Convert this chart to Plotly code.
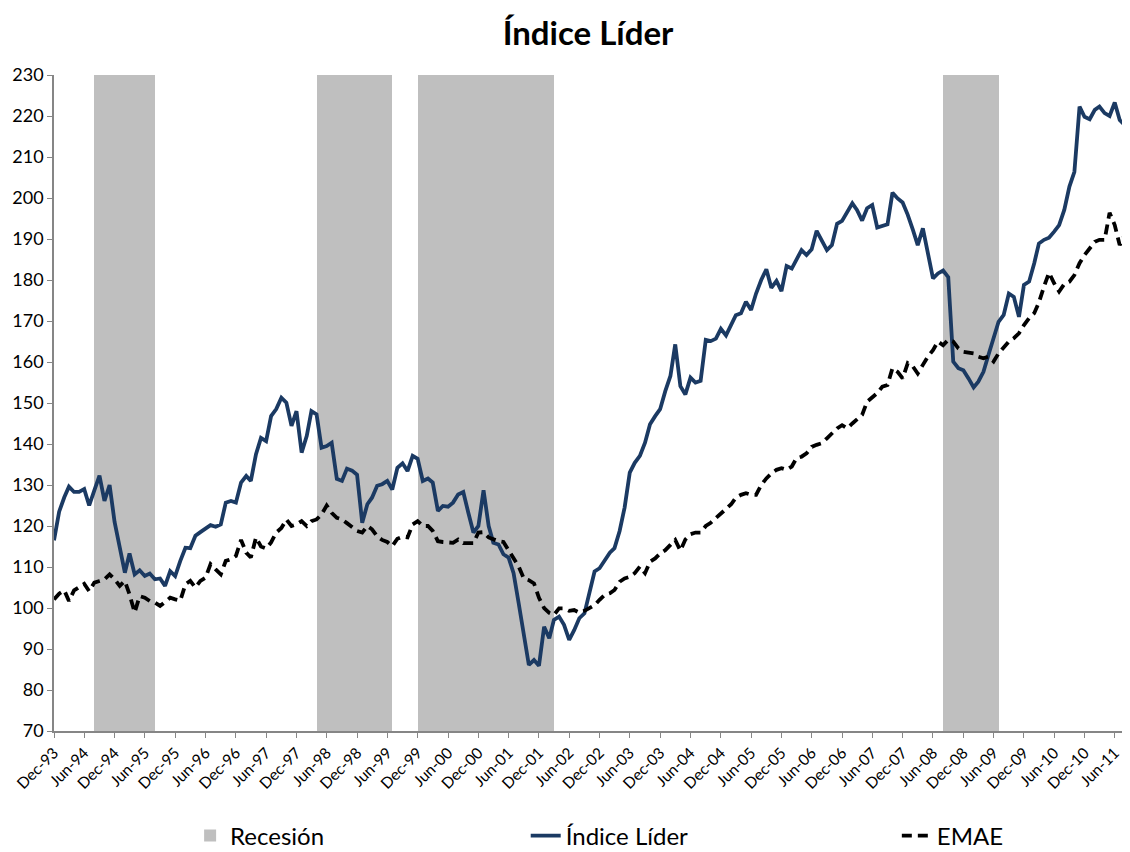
import pandas as pd
import plotly.graph_objects as go

months = pd.date_range("1993-12-01", periods=214, freq="MS")

indice_lider = [
    116.5, 123.5, 127.0, 129.6, 128.3, 128.3, 129.0, 125.0, 128.7, 132.3, 126.1, 130.0,
    121.0, 115.0, 108.6, 113.3, 108.2, 109.2, 107.8, 108.4, 107.0, 107.2, 105.4, 109.0,
    107.8, 111.5, 114.7, 114.6, 117.6, 118.5, 119.3, 120.2, 119.8, 120.4, 125.7, 126.1,
    125.7, 130.6, 132.2, 131.0, 137.5, 141.5, 140.7, 146.8, 148.5, 151.3, 150.1, 144.4,
    148.0, 137.9, 142.0, 148.0, 147.2, 139.1, 139.5, 140.3, 131.5, 131.0, 134.0, 133.5,
    132.5, 120.8, 125.3, 126.9, 129.8, 130.2, 131.0, 128.9, 134.2, 135.3, 133.4, 137.1,
    136.4, 131.0, 131.6, 130.6, 123.7, 124.9, 124.7, 125.7, 127.7, 128.3, 123.3, 118.4,
    120.0, 128.7, 120.0, 115.9, 115.5, 113.1, 112.3, 108.5, 101.1, 93.8, 86.1, 87.3,
    85.9, 95.4, 92.6, 97.1, 97.9, 95.9, 92.2, 94.6, 97.5, 98.7, 103.6, 108.9,
    109.7, 111.7, 113.5, 114.6, 118.8, 124.5, 133.0, 135.4, 137.1, 140.3, 144.8, 146.8,
    148.5, 152.9, 156.6, 164.3, 154.1, 152.1, 156.2, 155.0, 155.4, 165.4, 165.1, 165.7,
    168.1, 166.5, 168.9, 171.4, 171.9, 174.7, 172.7, 176.7, 180.0, 182.6, 178.1, 179.8,
    177.3, 183.4, 182.8, 185.0, 187.3, 186.1, 187.5, 192.0, 189.8, 187.3, 188.5, 193.7,
    194.4, 196.7, 198.7, 197.1, 194.5, 197.5, 198.3, 192.8, 193.2, 193.6, 201.3, 199.9,
    198.9, 195.9, 192.2, 188.5, 192.6, 186.5, 180.4, 181.6, 182.3, 180.7, 160.1, 158.5,
    158.0, 156.0, 153.8, 155.2, 157.6, 161.7, 165.8, 169.8, 171.5, 176.7, 175.9, 171.0,
    178.8, 179.6, 184.1, 188.9, 189.8, 190.3, 191.8, 193.4, 197.1, 202.8, 206.4, 222.3,
    219.8, 219.2, 221.5, 222.3, 220.7, 220.0, 223.3, 219.0, 217.8, 210.5,
]

emae = [
    102.1, 103.5, 104.3, 101.7, 104.3, 105.0, 105.9, 104.1, 106.2, 106.6, 107.0, 108.2,
    107.0, 105.4, 106.6, 103.3, 98.9, 102.9, 102.5, 101.7, 101.3, 100.5, 101.5, 102.5,
    102.1, 101.8, 105.8, 106.6, 105.0, 106.6, 107.4, 110.7, 109.4, 108.2, 111.5, 111.9,
    112.7, 116.6, 113.5, 112.3, 117.2, 115.0, 114.5, 116.0, 118.4, 119.5, 121.6, 120.0,
    120.4, 121.2, 120.0, 121.2, 121.6, 122.8, 125.0, 123.2, 122.0, 121.6, 120.7, 119.6,
    118.8, 118.4, 120.0, 119.2, 117.5, 116.6, 116.1, 115.1, 116.9, 117.4, 117.2, 120.4,
    121.2, 120.0, 120.0, 118.8, 116.3, 116.1, 116.1, 115.9, 116.7, 115.8, 115.8, 115.8,
    118.4, 118.5, 117.2, 116.7, 116.3, 116.1, 114.0, 112.0, 110.1, 107.2, 106.8, 106.0,
    102.5, 100.0, 98.8, 98.3, 99.9, 99.9, 99.3, 99.5, 98.9, 99.3, 99.9, 100.7,
    102.0, 103.2, 103.6, 104.4, 106.4, 107.2, 107.6, 108.5, 110.1, 108.5, 111.3, 112.1,
    113.3, 114.1, 115.4, 116.6, 114.0, 116.7, 118.0, 118.4, 118.4, 120.0, 120.8, 122.0,
    123.2, 124.1, 125.3, 126.9, 127.6, 128.0, 127.6, 127.6, 130.0, 131.6, 132.8, 133.7,
    134.1, 133.7, 134.5, 136.5, 136.9, 137.7, 139.3, 139.8, 140.2, 141.4, 142.6, 143.8,
    144.6, 143.8, 145.0, 145.9, 147.1, 150.3, 151.5, 152.4, 154.0, 154.4, 158.5, 157.6,
    156.0, 159.7, 158.9, 157.2, 159.3, 161.3, 162.9, 165.0, 164.1, 165.4, 165.0, 163.3,
    162.5, 162.3, 162.1, 161.3, 160.9, 161.3, 160.1, 162.1, 163.7, 165.0, 165.8, 167.0,
    169.0, 170.7, 171.9, 174.5, 178.4, 181.8, 179.2, 177.2, 179.0, 179.6, 181.2, 184.1,
    186.1, 187.7, 189.3, 189.8, 189.8, 196.4, 193.4, 188.5, 191.0, 191.8,
]

rec_start = ["1994-08-01", "1998-04-01", "1999-12-01", "2008-08-01"]
rec_end = ["1995-08-01", "1999-07-01", "2002-03-01", "2009-07-01"]

y_min, y_max = 70, 230

rs = pd.to_datetime(rec_start)
re_ = pd.to_datetime(rec_end)
rec_mid = [s + (e - s) / 2 for s, e in zip(rs, re_)]
rec_w = [(e - s).total_seconds() * 1000 for s, e in zip(rs, re_)]

FONT = "Lato"

fig = go.Figure()
fig.add_trace(go.Bar(
    x=rec_mid, y=[y_max - y_min] * len(rec_mid), base=y_min, width=rec_w,
    marker=dict(color="#BFBFBF", line=dict(width=0)), name="Recesión", legend="legend",
))
fig.add_trace(go.Scatter(
    x=months, y=indice_lider, mode="lines", name="Índice Líder", legend="legend2",
    line=dict(color="#1B3A63", width=3.8),
))
fig.add_trace(go.Scatter(
    x=months, y=emae, mode="lines", name="EMAE", legend="legend3",
    line=dict(color="#000000", width=3.8, dash="10px,6px"),
))

leg_common = dict(orientation="h", xanchor="left", y=-0.160, yanchor="middle",
                  font=dict(size=24, family=FONT), bgcolor="rgba(0,0,0,0)")

fig.update_layout(
    width=1122, height=844,
    margin=dict(l=46, r=0, t=67, b=121, autoexpand=False),
    paper_bgcolor="white", plot_bgcolor="white",
    font=dict(family=FONT, color="#000000"),
    title=dict(text="<b>Índice Líder</b>", x=0.517, xanchor="center", y=0.9704, yanchor="middle",
               font=dict(size=33, family=FONT)),
    showlegend=True,
    legend=dict(x=0.1265, **leg_common),
    legend2=dict(x=0.4384, **leg_common),
    legend3=dict(x=0.7833, **leg_common),
    bargap=0,
)
fig.update_xaxes(
    type="date", range=[months[0], months[-1]], automargin=False,
    tick0="1993-12-01", dtick="M6", tickformat="%b-%y", tickangle=-45,
    showline=True, linecolor="#868686", linewidth=1.5,
    ticks="outside", ticklen=5, tickcolor="#868686",
    showgrid=False, zeroline=False, tickfont=dict(size=15.5, family=FONT),
)
fig.update_yaxes(
    range=[y_min, y_max], dtick=10, tick0=70, automargin=False,
    showline=True, linecolor="#868686", linewidth=1.5,
    ticks="outside", ticklen=5, tickcolor="#868686",
    showgrid=False, zeroline=False, tickfont=dict(size=18, family=FONT),
)

fig.write_html("out.html")
